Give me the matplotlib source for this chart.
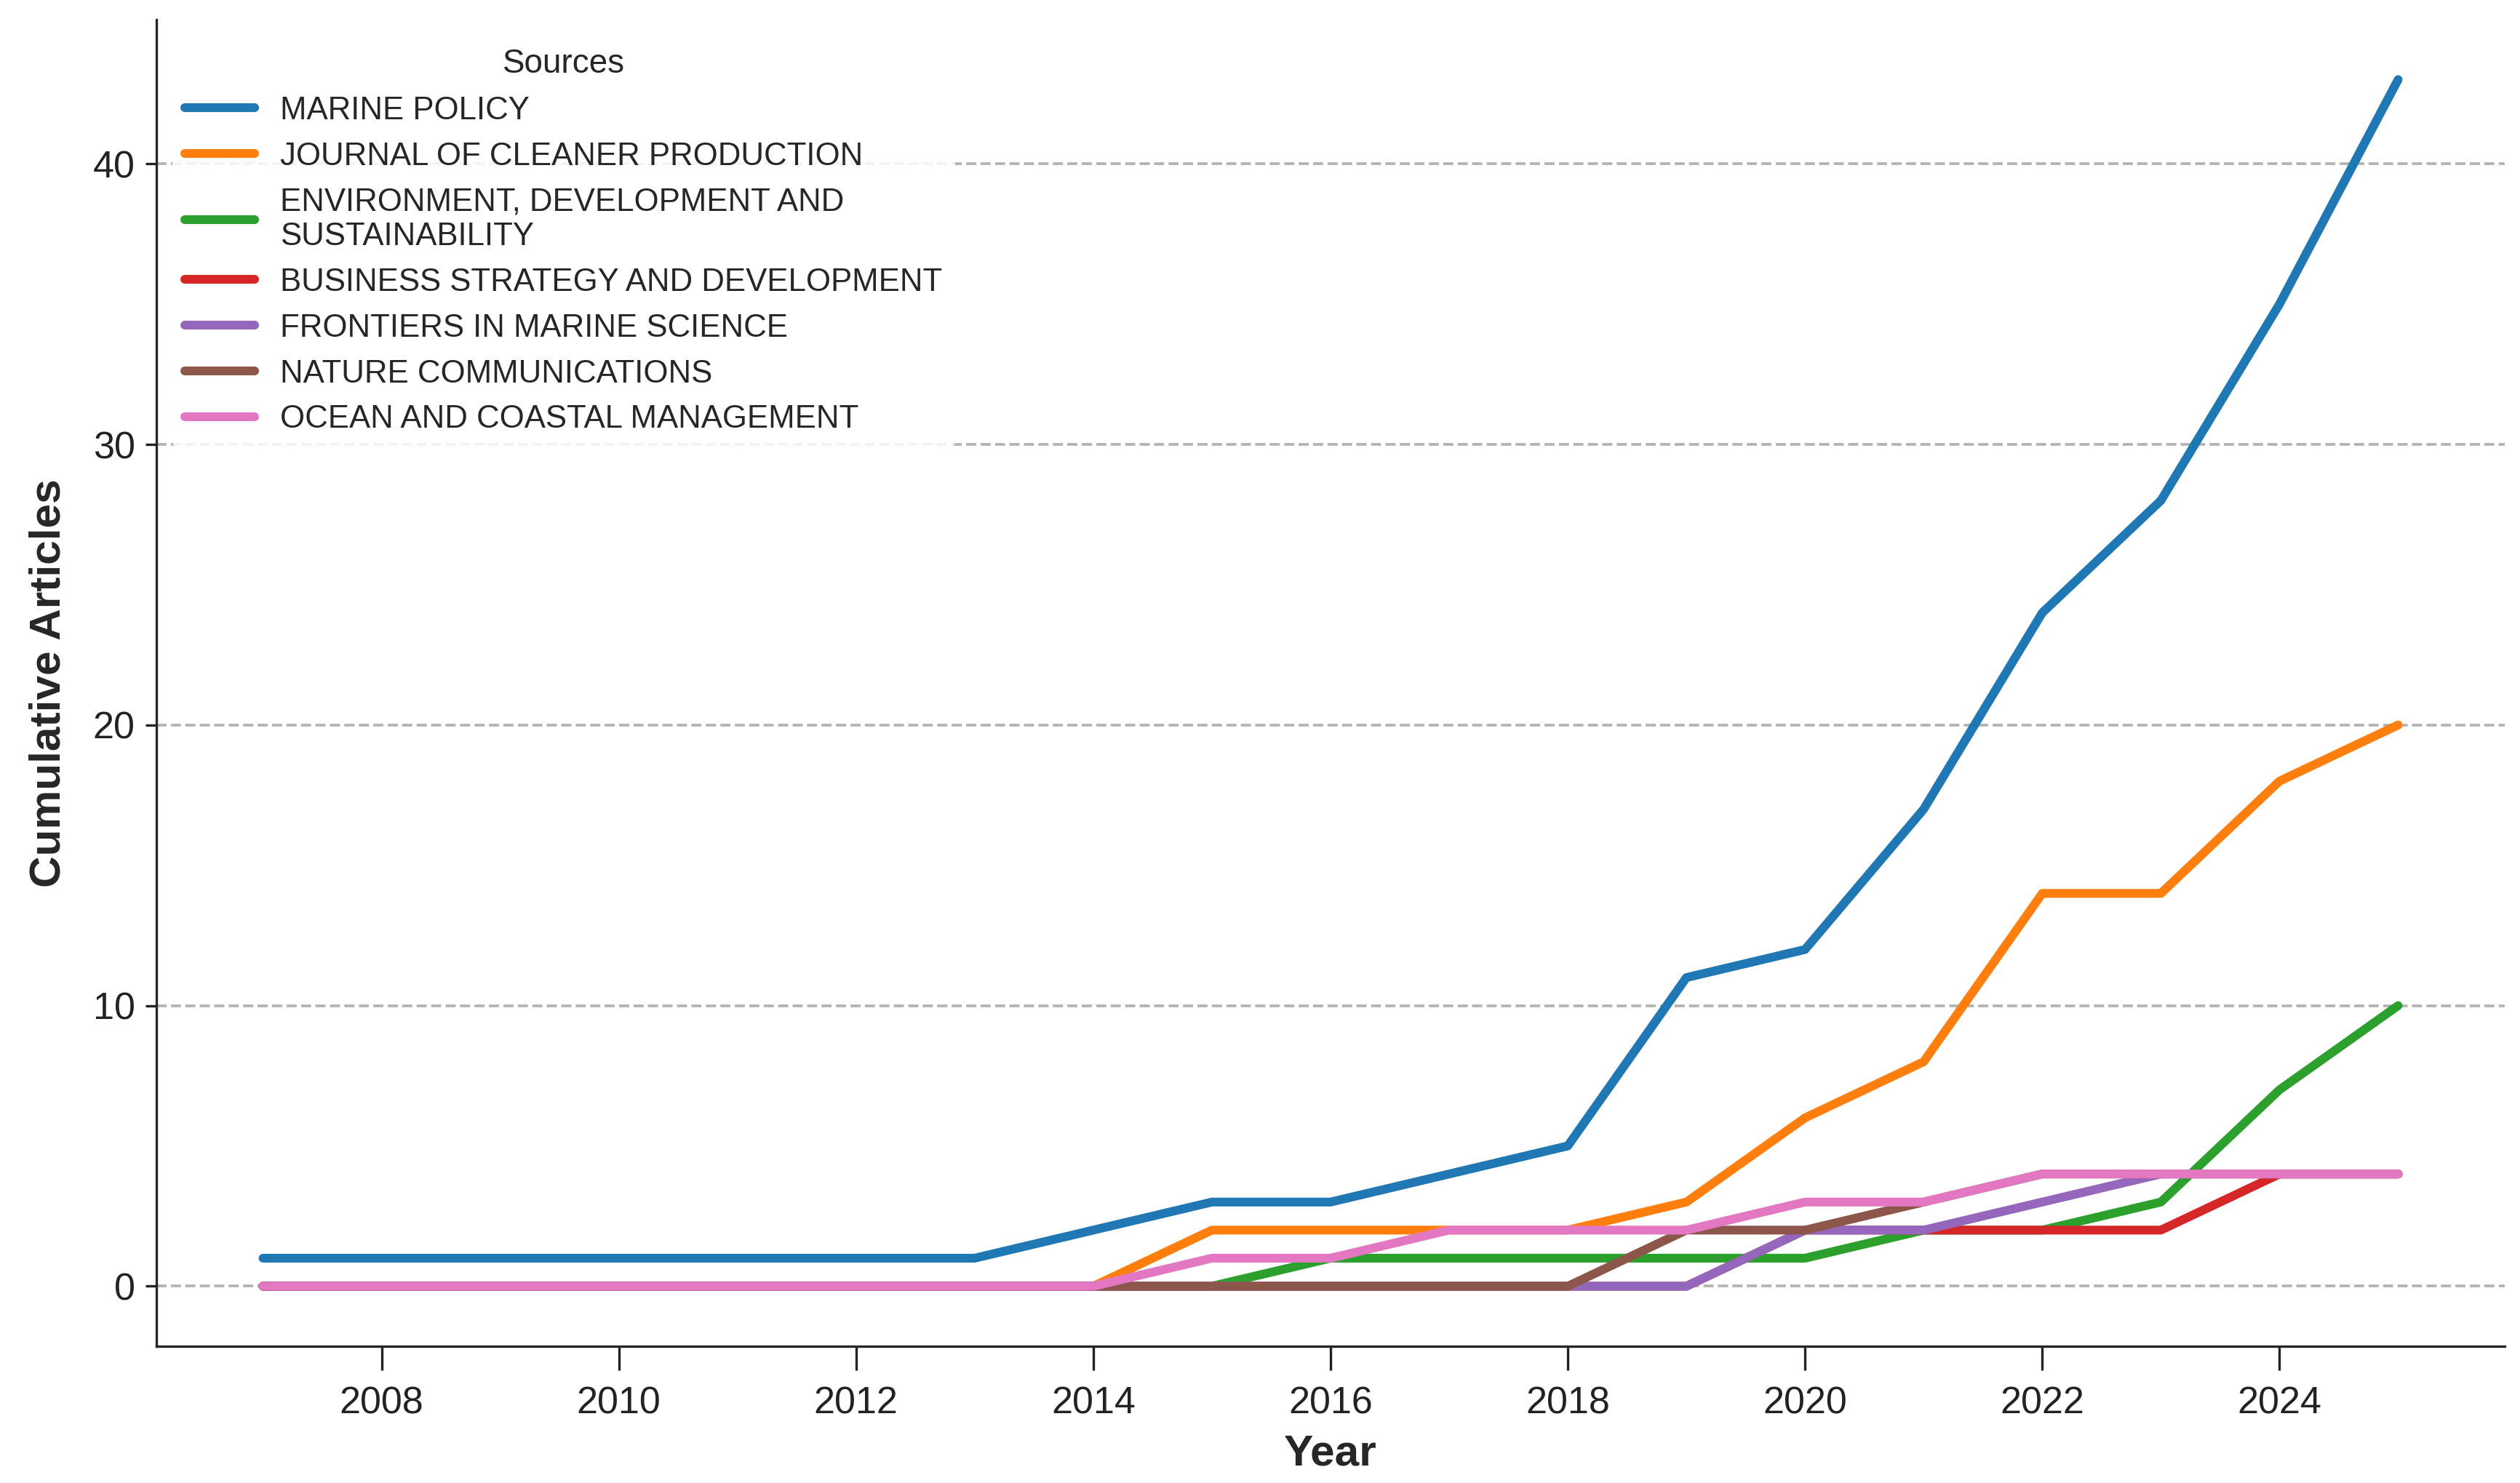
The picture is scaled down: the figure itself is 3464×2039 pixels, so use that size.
import matplotlib
matplotlib.use("Agg")
import matplotlib.pyplot as plt
import seaborn as sns

years = list(range(2007, 2026))

sources = [
    "MARINE POLICY",
    "JOURNAL OF CLEANER PRODUCTION",
    "ENVIRONMENT, DEVELOPMENT AND\nSUSTAINABILITY",
    "BUSINESS STRATEGY AND DEVELOPMENT",
    "FRONTIERS IN MARINE SCIENCE",
    "NATURE COMMUNICATIONS",
    "OCEAN AND COASTAL MANAGEMENT",
]

# cumulative articles per year, 2007..2025
marine_policy = [1, 1, 1, 1, 1, 1, 1, 2, 3, 3, 4, 5, 11, 12, 17, 24, 28, 35, 43]
cleaner_prod = [0, 0, 0, 0, 0, 0, 0, 0, 2, 2, 2, 2, 3, 6, 8, 14, 14, 18, 20]
env_dev_sust = [0, 0, 0, 0, 0, 0, 0, 0, 0, 1, 1, 1, 1, 1, 2, 2, 3, 7, 10]
business_strat = [0, 0, 0, 0, 0, 0, 0, 0, 0, 0, 0, 0, 0, 2, 2, 2, 2, 4, 4]
frontiers = [0, 0, 0, 0, 0, 0, 0, 0, 0, 0, 0, 0, 0, 2, 2, 3, 4, 4, 4]
nature_comm = [0, 0, 0, 0, 0, 0, 0, 0, 0, 0, 0, 0, 2, 2, 3, 4, 4, 4, 4]
ocean_coastal = [0, 0, 0, 0, 0, 0, 0, 0, 1, 1, 2, 2, 2, 3, 3, 4, 4, 4, 4]

series = [marine_policy, cleaner_prod, env_dev_sust, business_strat,
          frontiers, nature_comm, ocean_coastal]

sns.set_style("ticks")
plt.rcParams["font.family"] = ["Liberation Sans", "DejaVu Sans"]

fig, ax = plt.subplots(figsize=(3464 / 300, 2039 / 300), dpi=300)
colors = sns.color_palette("tab10", len(sources))

for name, vals, c in zip(sources, series, colors):
    ax.plot(years, vals, label=name, color=c, linewidth=2.9)

ax.yaxis.grid(True, linestyle="--", color="0.7", linewidth=0.9)
ax.set_xticks(range(2008, 2025, 2))
ax.set_yticks([0, 10, 20, 30, 40])
ax.tick_params(axis="both", labelsize=12.5, colors="#222222")
ax.tick_params(axis="x", length=8, pad=5)
ax.set_xlabel("Year", fontsize=14.5, fontweight="bold", labelpad=4)
ax.set_ylabel("Cumulative Articles", fontsize=14.5, fontweight="bold", labelpad=8)
sns.despine(ax=ax)

leg = ax.legend(title="Sources", loc="upper left", fontsize=10.5, title_fontsize=11,
                frameon=True, edgecolor="none", framealpha=0.85,
                handlelength=2.2, labelspacing=0.5)

plt.subplots_adjust(left=0.062, right=0.994, top=0.987, bottom=0.092)
fig.savefig("out.png", dpi=300)
